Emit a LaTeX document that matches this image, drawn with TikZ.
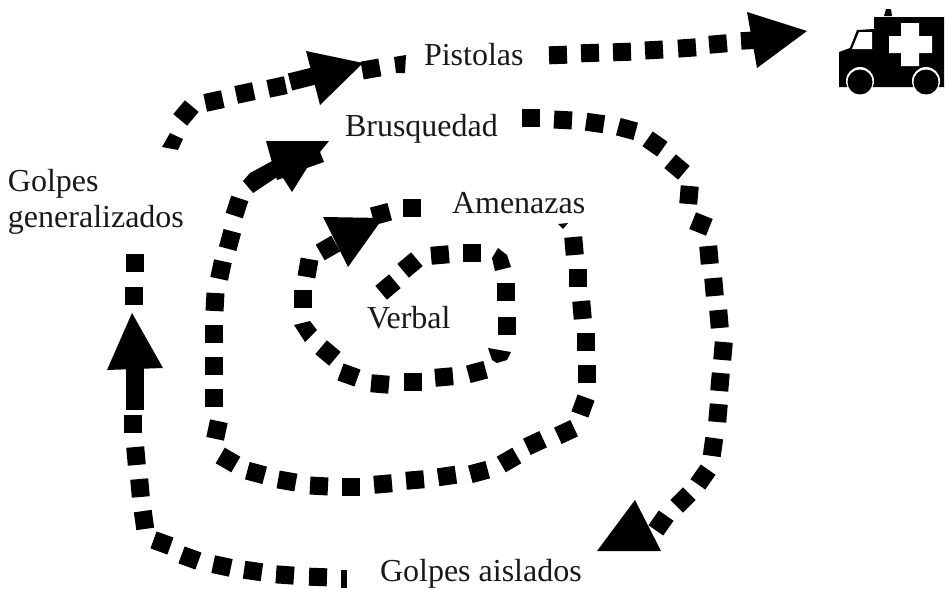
\documentclass[tikz,border=0pt]{standalone}
\usepackage{fontspec}
\setmainfont{Liberation Serif}
\tikzset{
  lbl/.style={anchor=base west,inner sep=0pt,outer sep=0pt,font=\fontsize{32}{36}\selectfont,text=black!90},
  headtri/.style={fill=black},
  thickdash/.style={line width=17.5pt,black},
  white part/.style={fill=white}
}
\newcommand{\dashes}[1]{\foreach \px/\py/\pa in {#1}{\fill[black,shift={(\px,\py)},rotate=\pa] (-9,-9) rectangle (9,9);}}
\begin{document}
\begin{tikzpicture}[x=1pt,y=-1pt]
\useasboundingbox (0,0) rectangle (945,589);
\fill[white] (0,0) rectangle (945,589);
% inner spiral
\dashes{388/287/40,410/265/40,440/255/5,472/253/0,506/292/0,507/326/0,477/372/15,444/377/5,413/382/0,380/384/-5,349/375/-20,328/353/-40,303/299/0,308/268/-10,328/248/30,381/214/15,412/208/0}
\fill (498,248) -- (507,255) -- (511,267) -- (495,271) -- (492,258) -- cycle;
\fill (488,348) -- (511,352) -- (507,360) -- (497,363) -- (492,360) -- cycle;
\fill (294,325) -- (310,321) -- (317,330) -- (305,342) -- cycle;
\fill[headtri] (323,217) -- (383,218) -- (348,267) -- cycle;
% second spiral
\fill (558,224) -- (568,223) -- (563,229) -- cycle;
\dashes{574/246/5,578/278/0,582/310/5,586/342/0,587/374/0,583/406/-20,566/432/25,535/443/25,509/460/30,479/472/15,447/476/8,415/480/5,383/484/5,351/487/0,319/486/-3,287/481/-10,256/473/-15,228/460/-30,217/430/-12,214/398/0,214/366/0,214/334/0,215/302/-3,221/270/-12,230/240/-15,237/207/-18}
\fill (243,181) -- (253,193) -- (277,177) -- (274,160) -- (250,173) -- cycle;
\fill[headtri] (266,141) -- (329,141) -- (320,152) -- (324,162) -- (307,168) -- (292,192) -- (283,178) -- (277,180) -- cycle;
% third spiral
\dashes{531/118/0,563/120/-3,595/123/-8,627/129/-15,655/144/-35,677/167/-40,689/195/-5,701/224/-22,709/255/5,714/287/5,719/319/5,723/351/-5,720/382/-5,718/413/-5,713/447/-8,703/477/-35,683/500/-45,661/523/-35}
\fill[headtri] (635,500) -- (661,551) -- (597,551) -- cycle;
% outer spiral
\fill (341,570) rectangle (347,588);
\dashes{318/577/-2,285/575/-4,253/571/-8,222/566/-12,190/558/-20,162/543/-20,144/520/8,140/488/5,136/456/5,133/424/0,134/296/0,135/263/0}
\draw[thickdash] (135,335) -- (135,410);
\fill[headtri] (132,313) -- (163,368) -- (107,370) -- cycle;
\fill (162,147) -- (170,133) -- (183,139) -- (178,150) -- cycle;
\dashes{186/113/-40,214/101/12,245/93/12,277/87/12}
\draw[thickdash] (290,82) -- (322,74);
\fill[headtri] (306,51) -- (363,63) -- (320,105) -- cycle;
\dashes{371/69/10}
\fill (394,57) -- (406,55) -- (405,73) -- (396,73) -- cycle;
\dashes{558/55/2,590/53/2,622/52/2,654/50/3,687/48/4,718/44/5}
\draw[thickdash] (741,41) -- (757,40);
\fill[headtri] (747,12) -- (807,31) -- (757,68) -- cycle;
% ambulance
\fill (839,87) -- (839,52) -- (850,48) -- (857,30) -- (874,29) -- (874,17) -- (944,17) -- (944,87) -- cycle;
\fill (884,16) -- (892,16) -- (891,9) -- (886,9) -- cycle;
\fill[white part] (852,49) -- (859,32) -- (872,32) -- (872,49) -- cycle;
\fill[white part] (901,23) rectangle (919,36) (889,36) rectangle (932,53) (901,53) rectangle (919,66);
\fill[white part] (860,81) circle (14) (926,81) circle (14);
\fill[white part] (844,88) rectangle (942,96);
\fill (860,82) circle (12.5) (926,82) circle (12.5);
% labels
\node[lbl] (pistolas) at (424,65) {Pistolas};
\node[lbl] (brusquedad) at (345,136) {Brusquedad};
\node[lbl] (amenazas) at (452,213) {Amenazas};
\node[lbl] (verbal) at (367,328) {Verbal};
\node[lbl] (aislados) at (380,581) {Golpes aislados};
\node[lbl] (golpes) at (8,191) {Golpes};
\node[lbl] (generalizados) at (8,227) {generalizados};
\end{tikzpicture}
\end{document}
